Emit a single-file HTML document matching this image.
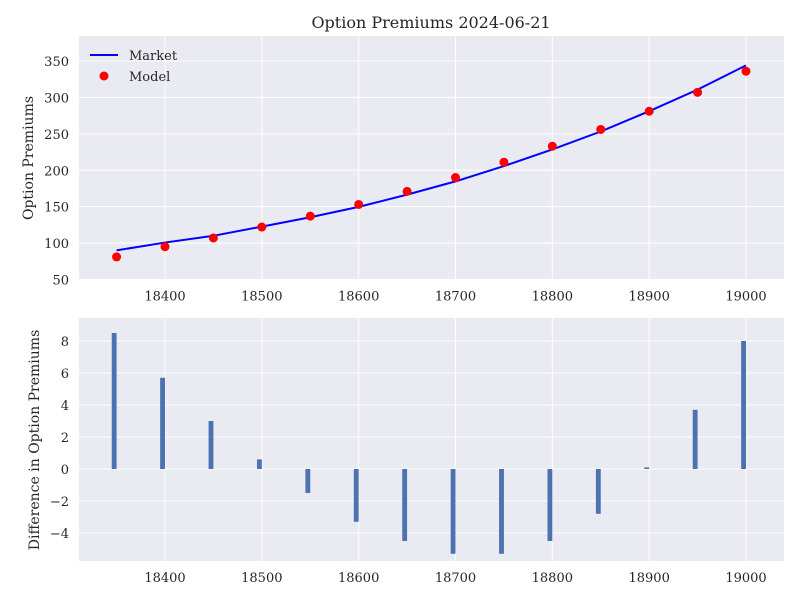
<!DOCTYPE html>
<html><head><meta charset="utf-8"><style>
body{margin:0;background:#fff;}
svg text{font-family:"DejaVu Serif","Liberation Serif",serif;fill:#262626;}
</style></head><body>
<svg id="chart" width="800" height="600" xmlns="http://www.w3.org/2000/svg"></svg>
<script>
const strikes=[18350,18400,18450,18500,18550,18600,18650,18700,18750,18800,18850,18900,18950,19000];
const modelVals=[81,95,107,122,137,153,171,190,211,233,256,281,307,336];
const marketVals=[90,100.7,110,122.6,135.5,149.7,166.5,184.7,205.7,228.5,253.2,281.1,310.7,344];
const diffVals=[8.5,5.7,3.0,0.6,-1.5,-3.3,-4.5,-5.3,-5.3,-4.5,-2.8,0.1,3.7,8.0];
const xTicks=[18400,18500,18600,18700,18800,18900,19000];
const yTicksTop=[50,100,150,200,250,300,350];
const yTicksBot=[-4,-2,0,2,4,6,8];

const svg=document.getElementById('chart');
const NS='http://www.w3.org/2000/svg';
function el(tag,attrs,parent){const e=document.createElementNS(NS,tag);for(const k in attrs)e.setAttribute(k,attrs[k]);(parent||svg).appendChild(e);return e;}
const L=79,R=784;
const x=v=>165+(v-18400)*(746-165)/600;
const yT=v=>279.5-(v-50)*(218.5/300);
const yB=v=>469-v*16;

function panel(top,bot,yf,ticks,name){
  const g=el('g',{});
  
  
  el('rect',{x:L,y:top,width:R-L,height:bot-top,fill:'#eaeaf2'},g);
  xTicks.forEach(t=>{
    el('line',{x1:x(t),x2:x(t),y1:top,y2:bot,stroke:'#fff','stroke-width':1},g);
    const tx=el('text',{x:x(t),y:bot+21,'text-anchor':'middle','font-size':13},g);tx.textContent=t;
    
    
  });
  ticks.forEach(t=>{
    const yy=yf(t);
    el('line',{x1:L,x2:R,y1:yy,y2:yy,stroke:'#fff','stroke-width':1},g);
    const tx=el('text',{x:L-10,y:yy+5,'text-anchor':'end','font-size':13},g);tx.textContent=String(t).replace('-','\u2212');
    
    
  });
  return g;
}
const gt=panel(36,279.5,yT,yTicksTop,'top-panel');
const gb=panel(318,561,yB,yTicksBot,'bottom-panel');

// market line
el('polyline',{points:strikes.map((s,i)=>x(s)+','+yT(marketVals[i])).join(' '),fill:'none',stroke:'#0000ff','stroke-width':2},gt);
strikes.forEach((s,i)=>{
  const c=el('circle',{cx:x(s),cy:yT(modelVals[i]),r:4.5,fill:'#ff0000'},gt);
  
  
});
strikes.forEach((s,i)=>{
  const v=diffVals[i];
  const r=el('rect',{x:x(s-5),y:Math.min(yB(v),yB(0)),width:x(s)-x(s-5),height:Math.abs(yB(v)-yB(0)),fill:'#4c72b0'},gb);
  
  
});

// legend
const lg=el('g',{});


el('line',{x1:90,x2:118,y1:55,y2:55,stroke:'#0000ff','stroke-width':2},lg);
el('text',{x:129,y:60,'font-size':13},lg).textContent='Market';
el('circle',{cx:104,cy:76,r:4.5,fill:'#ff0000'},lg);
el('text',{x:129,y:81,'font-size':13},lg).textContent='Model';

const t=el('text',{x:431,y:28,'text-anchor':'middle','font-size':16});t.textContent='Option Premiums 2024-06-21';

const y1=el('text',{x:0,y:0,'text-anchor':'middle','font-size':14,transform:'translate(33,158) rotate(-90)'});y1.textContent='Option Premiums';

const y2=el('text',{x:0,y:0,'text-anchor':'middle','font-size':14,transform:'translate(39,440) rotate(-90)'});y2.textContent='Difference in Option Premiums';

</script>
</body></html>
